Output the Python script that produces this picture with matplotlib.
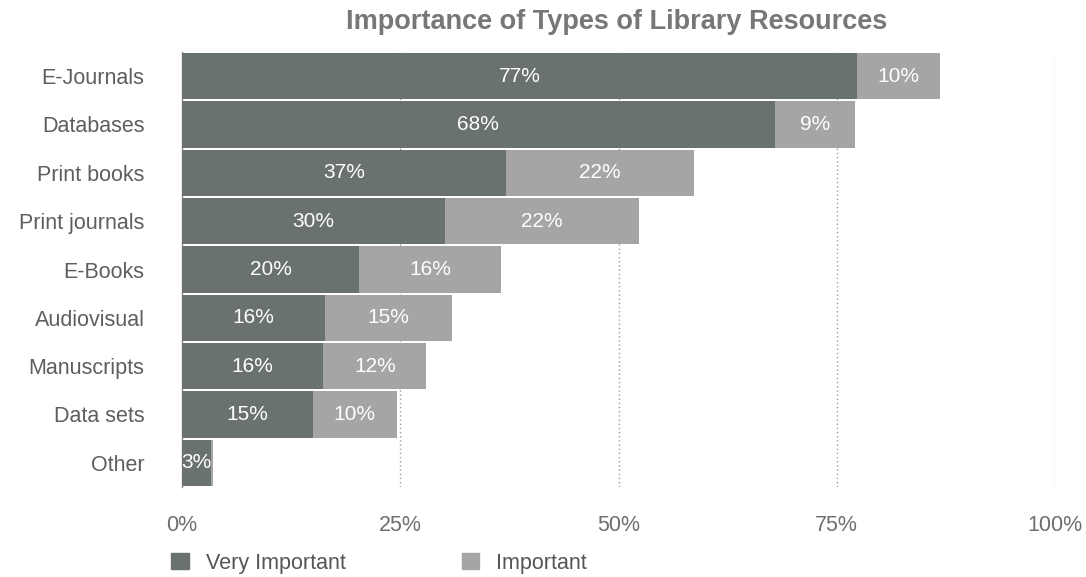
import matplotlib
matplotlib.use('Agg')
import matplotlib.pyplot as plt
from matplotlib.patches import Patch

plt.rcParams['font.family'] = ['Liberation Sans', 'DejaVu Sans']

# ── data ─────────────────────────────────────────────────────────────────────
categories = ['E-Journals', 'Databases', 'Print books', 'Print journals',
              'E-Books', 'Audiovisual', 'Manuscripts', 'Data sets', 'Other']
very_important = [77.3, 67.9, 37.1, 30.1, 20.3, 16.4, 16.2, 15.0, 3.3]
important = [9.5, 9.2, 21.6, 22.3, 16.2, 14.5, 11.8, 9.6, 0.3]
very_labels = ['77%', '68%', '37%', '30%', '20%', '16%', '16%', '15%', '3%']
imp_labels = ['10%', '9%', '22%', '22%', '16%', '15%', '12%', '10%', '']
xticks = [0, 25, 50, 75, 100]

DARK = '#6a726e'
LIGHT = '#a5a5a5'
TEXT = '#6e6e6e'

fig = plt.figure(figsize=(10.86, 5.77), dpi=100)
ax = fig.add_axes([182 / 1086, 1 - 487 / 577, (1055 - 182) / 1086, (487 - 52) / 577])

y = list(range(len(categories)))
ax.barh(y, very_important, height=0.96, color=DARK, zorder=3)
ax.barh(y, important, left=very_important, height=0.96, color=LIGHT, zorder=3)

for i in y:
    ax.text(very_important[i] / 2, i, very_labels[i], ha='center', va='center',
            color='white', fontsize=15, zorder=4)
    if imp_labels[i]:
        ax.text(very_important[i] + important[i] / 2, i, imp_labels[i],
                ha='center', va='center', color='white', fontsize=15, zorder=4)

ax.set_xlim(0, 100)
ax.set_ylim(len(categories) - 0.5, -0.5)
ax.set_yticks(y)
ax.set_yticklabels(categories, fontsize=15.5, color='#5e5e5e')
ax.set_xticks(xticks)
ax.set_xticklabels([f'{t}%' for t in xticks], fontsize=15.5, color=TEXT)
ax.tick_params(length=0)
ax.tick_params(axis='x', pad=20)
ax.tick_params(axis='y', pad=27)

for t in xticks[1:]:
    ax.axvline(t, color='#999999', linestyle=(0, (1, 2)), linewidth=1, zorder=1)

for s in ['top', 'right', 'bottom']:
    ax.spines[s].set_visible(False)
ax.spines['left'].set_color('#888888')
ax.spines['left'].set_linewidth(1)

fig.text(0.568, 0.962, 'Importance of Types of Library Resources', ha='center',
         va='center', fontsize=19.5, fontweight='bold', color='#777777')

handles = [Patch(color=DARK, label='Very Important'),
           Patch(color=LIGHT, label='Important')]
fig.legend(handles=handles, loc='center left', bbox_to_anchor=(152 / 1086, 1 - 563 / 577),
           ncol=2, frameon=False, fontsize=15.5, handlelength=0.8, handleheight=0.8,
           columnspacing=5.4, handletextpad=0.8, labelcolor='#555555')

fig.savefig('out.png', dpi=100)
